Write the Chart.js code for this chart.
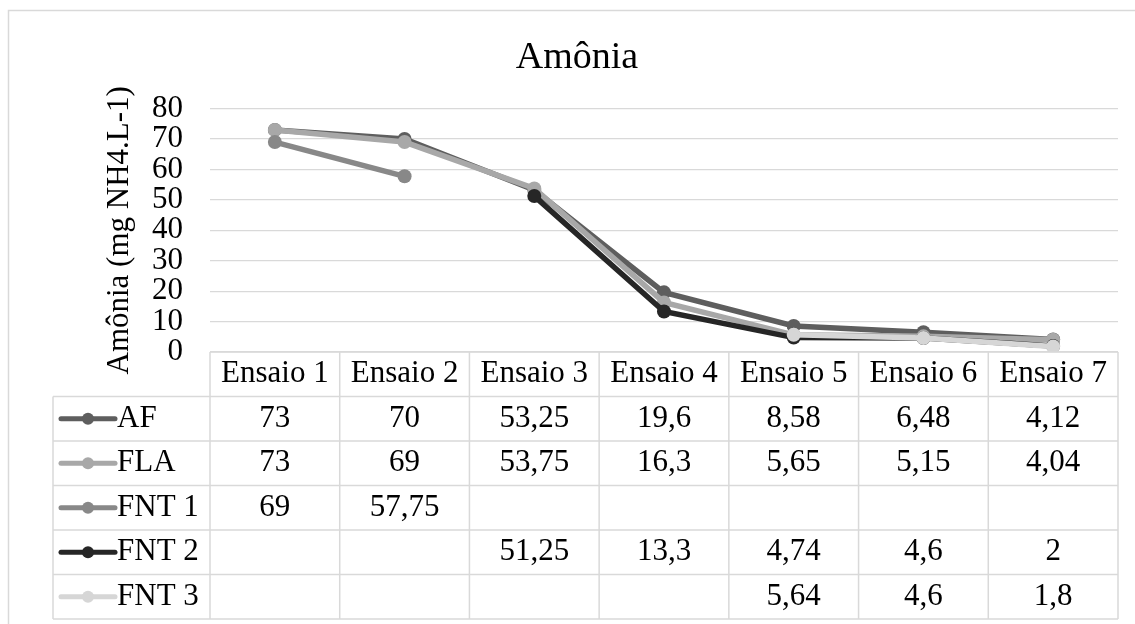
<!DOCTYPE html>
<html>
<head>
<meta charset="utf-8">
<script src="https://cdn.jsdelivr.net/npm/chart.js@4"></script>
<style>
  html, body { margin: 0; padding: 0; background: #ffffff; }
  #wrap { width: 1135px; height: 624px; position: relative; }
</style>
</head>
<body>
<div id="wrap"><canvas id="c" width="1135" height="624"></canvas></div>
<script>
// Trial labels and measured ammonia concentration per series
const categories = ['Ensaio 1', 'Ensaio 2', 'Ensaio 3', 'Ensaio 4', 'Ensaio 5', 'Ensaio 6', 'Ensaio 7'];
const seriesNames = ['AF', 'FLA', 'FNT 1', 'FNT 2', 'FNT 3'];
const afValues   = [73, 70, 53.25, 19.6, 8.58, 6.48, 4.12];
const flaValues  = [73, 69, 53.75, 16.3, 5.65, 5.15, 4.04];
const fnt1Values = [69, 57.75, null, null, null, null, null];
const fnt2Values = [null, null, 51.25, 13.3, 4.74, 4.6, 2];
const fnt3Values = [null, null, null, null, 5.64, 4.6, 1.8];
const yTicks = [0, 10, 20, 30, 40, 50, 60, 70, 80];

const seriesValues = [afValues, flaValues, fnt1Values, fnt2Values, fnt3Values];
const seriesColors = ['#5e5e5e', '#a8a8a8', '#888888', '#262626', '#d6d6d6'];

const FONT = "'Liberation Serif', 'Times New Roman', serif";
const GRID = '#d9d9d9';

const fmt = v => (v === null || v === undefined) ? '' : String(v).replace('.', ',');

// Data table under the plot: header row of trials, one row per series with legend key
const dataTable = {
  id: 'dataTable',
  afterDraw(chart) {
    const ctx = chart.ctx;
    const area = chart.chartArea;
    const xs = chart.scales.x;
    const colW = (area.right - area.left) / categories.length;
    const rowH = 44.5;
    const top = area.bottom;
    const keyLeft = 53;
    const nRows = seriesNames.length;

    ctx.save();
    // outer frame of the chart object
    ctx.strokeStyle = GRID;
    ctx.lineWidth = 1.5;
    ctx.strokeRect(8.5, 10.5, 1200, 700);

    // grid of table cells
    ctx.beginPath();
    ctx.moveTo(area.left, top); ctx.lineTo(area.right, top);
    for (let r = 1; r <= nRows + 1; r++) {
      const y = top + r * rowH;
      ctx.moveTo(keyLeft, y); ctx.lineTo(area.right, y);
    }
    ctx.moveTo(keyLeft, top + rowH); ctx.lineTo(keyLeft, top + (nRows + 1) * rowH);
    for (let c = 0; c <= categories.length; c++) {
      const x = area.left + c * colW;
      ctx.moveTo(x, top); ctx.lineTo(x, top + (nRows + 1) * rowH);
    }
    ctx.stroke();

    ctx.fillStyle = '#000000';
    ctx.font = '31px ' + FONT;
    ctx.textBaseline = 'middle';
    ctx.textAlign = 'center';
    categories.forEach((cat, i) => {
      ctx.fillText(cat, xs.getPixelForValue(i), top + rowH / 2);
    });

    seriesNames.forEach((name, r) => {
      const cy = top + (r + 1) * rowH + rowH / 2;
      // legend key: line with marker
      ctx.strokeStyle = seriesColors[r];
      ctx.lineWidth = 5;
      ctx.lineCap = 'round';
      ctx.beginPath();
      ctx.moveTo(61, cy); ctx.lineTo(115, cy);
      ctx.stroke();
      ctx.fillStyle = seriesColors[r];
      ctx.beginPath();
      ctx.arc(88, cy, 6, 0, Math.PI * 2);
      ctx.fill();
      ctx.fillStyle = '#000000';
      ctx.textAlign = 'left';
      ctx.fillText(name, 117, cy);
      ctx.textAlign = 'center';
      seriesValues[r].forEach((v, i) => {
        ctx.fillText(fmt(v), xs.getPixelForValue(i), cy);
      });
    });
    ctx.restore();
  }
};

const datasets = seriesNames.map((name, i) => ({
  label: name,
  data: seriesValues[i],
  borderColor: seriesColors[i],
  backgroundColor: seriesColors[i],
  pointBackgroundColor: seriesColors[i],
  pointBorderColor: seriesColors[i],
  borderWidth: 5.5,
  pointRadius: 7,
  pointBorderWidth: 0,
  pointHoverRadius: 7,
  tension: 0,
  spanGaps: false,
  order: seriesNames.length - i
}));

new Chart(document.getElementById('c'), {
  type: 'line',
  data: { labels: categories, datasets },
  plugins: [dataTable],
  options: {
    responsive: false,
    animation: false,
    devicePixelRatio: 1,
    layout: { padding: { top: 10, left: 36, right: 17, bottom: 272 } },
    plugins: {
      legend: { display: false },
      tooltip: { enabled: false },
      title: {
        display: true,
        text: 'Amônia',
        color: '#000000',
        font: { family: FONT, size: 38, weight: 'normal' },
        padding: { top: 25, bottom: 28 }
      }
    },
    scales: {
      x: {
        type: 'category',
        display: false,
        offset: true
      },
      y: {
        min: 0,
        max: 80,
        afterBuildTicks: scale => { scale.ticks = yTicks.map(v => ({ value: v })); },
        afterFit: scale => { scale.width = 174; },
        border: { display: false },
        grid: { color: GRID, lineWidth: 1.3, drawTicks: false },
        ticks: {
          color: '#000000',
          padding: 27,
          autoSkip: false,
          font: { family: FONT, size: 31 }
        },
        title: {
          display: true,
          text: 'Amônia (mg NH4.L-1)',
          color: '#000000',
          font: { family: FONT, size: 31 },
          padding: { top: 65, bottom: 0 }
        }
      }
    }
  }
});
</script>
</body>
</html>
